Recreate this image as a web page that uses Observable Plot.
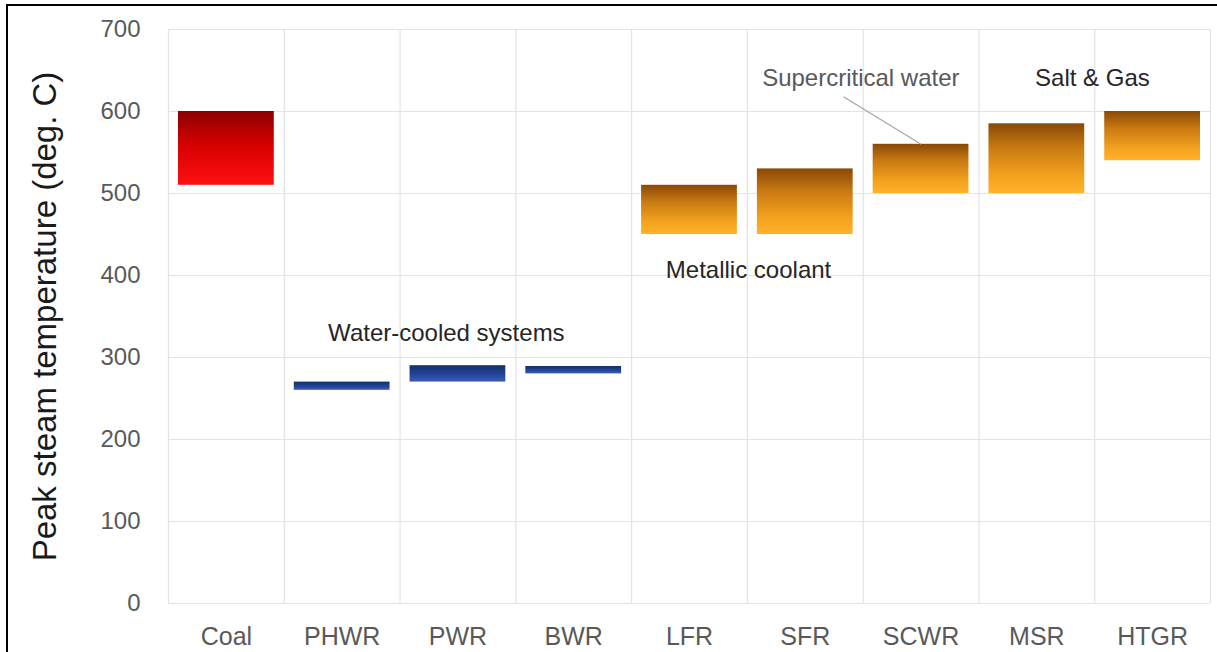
<!DOCTYPE html>
<html>
<head>
<meta charset="utf-8">
<script src="https://cdn.jsdelivr.net/npm/d3@7"></script>
<script src="https://cdn.jsdelivr.net/npm/@observablehq/plot@0.6"></script>
<style>
  html, body { margin: 0; padding: 0; background: #fff; overflow: hidden; }
  #wrap { position: relative; width: 1217px; height: 652px; overflow: hidden; }
  #frame { position: absolute; left: 6px; top: 4px; width: 1400px; height: 800px;
           border: 2.5px solid #000; pointer-events: none; box-sizing: border-box; }
  svg { display: block; }
</style>
</head>
<body>
<div id="wrap"><div id="chart"></div><div id="frame"></div></div>
<script>
// ---- data ----
const categories = ["Coal", "PHWR", "PWR", "BWR", "LFR", "SFR", "SCWR", "MSR", "HTGR"];
const lows  = [510, 260, 270, 280, 450, 450, 500, 500, 540];
const highs = [600, 270, 290, 289, 510, 530, 560, 585, 600];
const groups = ["coal", "water", "water", "water", "adv", "adv", "adv", "adv", "adv"];
const yTicks = [0, 100, 200, 300, 400, 500, 600, 700];
const yLabel = "Peak steam temperature (deg. C)";
const notes = ["Water-cooled systems", "Metallic coolant", "Supercritical water", "Salt & Gas"];

const rows = categories.map((c, i) => ({cat: c, i, lo: lows[i], hi: highs[i], g: groups[i]}));
const fillFor = {coal: "url(#gCoal)", water: "url(#gWater)", adv: "url(#gAdv)"};

const font = "'Liberation Sans', Arial, sans-serif";

const chart = Plot.plot({
  width: 1217,
  height: 652,
  marginLeft: 168,
  marginRight: 7,
  marginTop: 29,
  marginBottom: 49,
  style: {fontFamily: font, background: "transparent"},
  x: {type: "linear", domain: [0, categories.length]},
  y: {domain: [0, 700]},
  marks: [
    Plot.gridY(yTicks, {stroke: "#e3e3e3", strokeOpacity: 1, strokeWidth: 1.2}),
    Plot.gridX(d3.range(categories.length + 1), {stroke: "#e3e3e3", strokeOpacity: 1, strokeWidth: 1.2}),
    Plot.axisY(yTicks, {tickSize: 0, tickPadding: 28, fontSize: 24, fill: "#595959", label: null}),
    Plot.axisX(categories.map((c, i) => i + 0.5), {
      tickSize: 0, tickPadding: 24, fontSize: 25, fill: "#595959", label: null,
      tickFormat: d => categories[Math.floor(d)]
    }),
    Plot.rectY(rows, {
      x1: d => d.i, x2: d => d.i + 1, y1: "lo", y2: "hi",
      insetLeft: 10, insetRight: 10,
      fill: d => fillFor[d.g]
    }),
    Plot.text([yLabel], {
      frameAnchor: "left", rotate: -90, dx: -123, textAnchor: "middle",
      fontSize: 33, fill: "#1a1a1a"
    }),
    Plot.link([0], {x1: 5.83, y1: 618, x2: 6.5, y2: 560, stroke: "#a6a6a6", strokeWidth: 1.2}),
    Plot.text([notes[0]], {x: 2.40, y: 329, fontSize: 24, fill: "#262626"}),
    Plot.text([notes[1]], {x: 5.01, y: 406, fontSize: 24, fill: "#262626"}),
    Plot.text([notes[2]], {x: 5.98, y: 640, fontSize: 24, fill: "#595959"}),
    Plot.text([notes[3]], {x: 7.98, y: 641, fontSize: 24, fill: "#262626"})
  ]
});

// gradients
const ns = "http://www.w3.org/2000/svg";
const defs = document.createElementNS(ns, "defs");
function grad(id, stops) {
  const g = document.createElementNS(ns, "linearGradient");
  g.setAttribute("id", id);
  g.setAttribute("x1", "0"); g.setAttribute("y1", "0");
  g.setAttribute("x2", "0"); g.setAttribute("y2", "1");
  stops.forEach(([o, c]) => {
    const s = document.createElementNS(ns, "stop");
    s.setAttribute("offset", o);
    s.setAttribute("stop-color", c);
    g.appendChild(s);
  });
  defs.appendChild(g);
}
grad("gCoal", [["0", "#8c0000"], ["0.45", "#d60000"], ["1", "#ff1010"]]);
grad("gWater", [["0", "#142d6a"], ["0.6", "#24459a"], ["1", "#3a5fb0"]]);
grad("gAdv", [["0", "#8a4806"], ["0.35", "#c97a12"], ["0.75", "#f3a21e"], ["1", "#ffb22a"]]);
chart.insertBefore(defs, chart.firstChild);

document.getElementById("chart").appendChild(chart);
</script>
</body>
</html>
